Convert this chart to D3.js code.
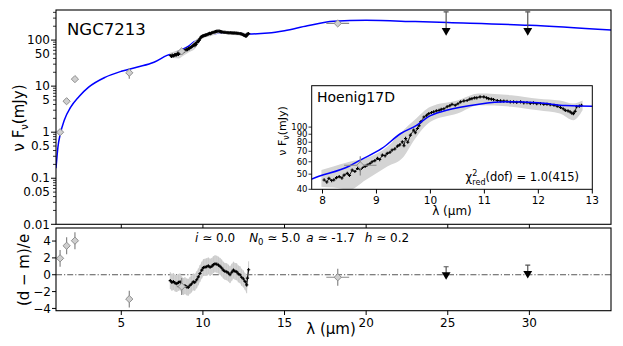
<!DOCTYPE html>
<html><head><meta charset="utf-8">
<script src="https://cdn.jsdelivr.net/npm/d3@7"></script>
<style>
body{margin:0;background:#fff;}
svg text{font-family:"DejaVu Sans",sans-serif;}
</style></head>
<body><svg id="c" width="623" height="346"></svg>
<script>
// ---------------- DATA ----------------
const modelWl   = [1.0,1.12,1.27,1.5,1.9,2.4,3.0,4.0,5.0,6.0,7.0,7.8,8.5,8.7,9.1,9.45,9.75,9.95,10.3,10.9,11.4,12.0,12.5,13.0,14.0,15.0,16.4,18.0,20.0,23.0,25.0,30.0,35.0];
const modelFlux = [0.165,0.48,0.94,1.8,3.5,5.9,9.5,15.5,21,26,33,46.5,56.4,61.5,73,91,103,116,128,140,145,143,137.5,136,142,160,204,255,268,252,240,210,165];

const specWl   = [8.03,8.08,8.12,8.17,8.21,8.26,8.31,8.36,8.40,8.46,8.50,8.55,8.60,8.65,8.70,8.74,8.79,8.83,8.88,8.92,8.97,9.02,9.06,9.11,9.16,9.20,9.25,9.29,9.34,9.39,9.43,9.48,9.51,9.54,9.58,9.63,9.69,9.72,9.76,9.79,9.82,9.88,9.93,9.97,10.02,10.06,10.11,10.16,10.20,10.25,10.31,10.36,10.40,10.46,10.51,10.56,10.62,10.68,10.73,10.77,10.82,10.86,10.92,10.99,11.04,11.08,11.13,11.17,11.24,11.30,11.36,11.42,11.48,11.54,11.60,11.67,11.73,11.79,11.85,11.91,11.97,12.04,12.10,12.16,12.22,12.29,12.35,12.41,12.46,12.50,12.55,12.59,12.62,12.65,12.68,12.71,12.76,12.80];
const specFlux = [45.9,44.5,47.0,45.5,45.9,47.5,48.2,47.2,49.3,50.6,49.0,53.1,52.0,54.4,53.5,55.2,56.0,57.2,58.5,60.0,61.0,63.1,62.0,66.2,65.5,67.9,69.0,71.3,72.5,75.6,77.0,80.5,76.0,84.6,80.0,88.9,95.6,92.0,98,102,108,116,119,122,124,125,127,128,130,131,135,137,140,138,141,145,147,148,151,152,154,154,156,156,154,152,151,150,148,147,146.5,146,145,145,144,145,143,143.6,142,142.7,141,141.5,140,140,139,138,136,133.5,131,128,127,125,123,122,126,135,136,138];

const bandWl = [7.98,8.2,8.5,8.8,9.2,9.5,9.7,10.0,10.5,10.9,11.5,12.0,12.4,12.65,12.82];
const bandLo = [41.6,41,39.8,45.9,55.9,64.3,82.6,108,122,138,135,128,122,110.6,128];
const bandHi = [53.1,56,60,63.1,74.8,95.6,110.6,135,148,164,160,152,148,141.6,148];

const residWl = [8.00,8.10,8.19,8.30,8.40,8.50,8.60,8.70,8.80,8.90,9.01,9.10,9.21,9.30,9.41,9.50,9.62,9.72,9.82,9.93,10.03,10.13,10.23,10.33,10.44,10.55,10.64,10.74,10.85,10.95,11.05,11.15,11.25,11.35,11.46,11.56,11.66,11.77,11.87,11.97,12.07,12.17,12.27,12.37,12.48,12.58,12.68,12.73,12.80];
const residVal = [-0.7,-0.9,-0.8,-1.0,-1.05,-0.9,-0.85,-1.2,-1.4,-1.3,-1.45,-1.5,-1.25,-1.1,-0.85,-0.9,-0.6,-0.25,0.15,0.55,0.85,0.9,0.95,1.05,0.9,1.0,1.2,1.3,1.25,1.15,1.0,0.8,0.55,0.4,0.35,0.2,0.0,0.3,0.55,0.4,0.35,0.1,0.0,-0.3,-0.5,-0.8,-1.2,-0.4,0.6];

const photWl    = [1.25,1.65,2.16,5.49,8.70,18.26];
const photFlux  = [1.0,4.7,14.2,19.5,57,230];
const photErr   = [0.15,0.6,1.5,5,8,12];
const photXerr  = [0,0,0,0,0.3,0.7];
const photRes   = [1.95,3.44,4.04,-2.89,-1.4,-0.3];

const ulWl     = [24.9,29.9];
const ulFlux   = [160,160];
const ulTop    = [410,410];
const ulRes    = [0.0,0.15];
const ulResTop = [0.95,1.15];

const mainYTicks  = [0.01,0.05,0.1,0.5,1,5,10,50,100];
const residYTicks = [-4,-2,0,2,4];
const xTicks      = [5,10,15,20,25,30];
const insetXTicks = [8,9,10,11,12,13];
const insetYTicks = [40,50,60,70,80,90,100];

// ---------------- SCALES ----------------
const svg = d3.select("#c");
const X0=56, X1=611;
const x = d3.scaleLinear().domain([1,35]).range([X0,X1]);
const y = d3.scaleLog().domain([0.01,450]).range([224.3,10]);
const yr = d3.scaleLinear().domain([-4.27,5.55]).range([310.7,228]);
const xi = d3.scaleLinear().domain([7.8,13]).range([311.7,592.3]);
const yi = d3.scaleLog().domain([40,184]).range([189.3,85.7]);

const defs = svg.append("defs");
function clip(id,x0,y0,x1,y1){defs.append("clipPath").attr("id",id).append("rect").attr("x",x0).attr("y",y0).attr("width",x1-x0).attr("height",y1-y0);}
clip("cm",X0,10,X1,224.3); clip("cr",X0,228,X1,310.7); clip("ci",311.7,85.7,592.3,189.3);

const diamond = d3.symbol(d3.symbolSquare,26)();
const tri = d3.symbol(d3.symbolTriangle,34)();

function drawSpectrum(g,xs,ys,lw){
  const band = d3.area().x((d,i)=>xs(bandWl[i])).y0((d,i)=>ys(bandLo[i])).y1((d,i)=>ys(bandHi[i])).curve(d3.curveMonotoneX);
  g.append("path").datum(bandWl).attr("d",band).attr("fill","#d4d4d4");
  const ln = d3.line().x((d,i)=>xs(specWl[i])).y((d,i)=>ys(specFlux[i]));
  g.append("path").datum(specWl).attr("d",ln).attr("fill","none").attr("stroke","#111").attr("stroke-width",lw);
  g.selectAll(null).data(specWl).enter().append("path")
    .attr("d","M-1.6,0H1.6M0,-1.6V1.6").attr("stroke","#000").attr("stroke-width",1.1)
    .attr("transform",(d,i)=>`translate(${xs(d)},${ys(specFlux[i])})`);
}
function drawModel(g,xs,ys){
  const ln = d3.line().x((d,i)=>xs(modelWl[i])).y((d,i)=>ys(modelFlux[i])).curve(d3.curveMonotoneX);
  g.append("path").datum(modelWl).attr("d",ln).attr("fill","none").attr("stroke","#0000ff").attr("stroke-width",1.5);
}
function drawPhot(g,xs,ys,vals,errs,idx){
  idx.forEach(i=>{
    const px=xs(photWl[i]), py=ys(vals[i]);
    const e = errs(i);
    g.append("line").attr("x1",px).attr("x2",px).attr("y1",e[0]).attr("y2",e[1]).attr("stroke","#888").attr("stroke-width",1.2);
    if(photXerr[i]>0) g.append("line").attr("x1",xs(photWl[i]-photXerr[i])).attr("x2",xs(photWl[i]+photXerr[i])).attr("y1",py).attr("y2",py).attr("stroke","#888").attr("stroke-width",1.2);
    g.append("path").attr("d",diamond).attr("transform",`translate(${px},${py}) rotate(45)`).attr("fill","#cfcfcf").attr("stroke","#8a8a8a").attr("stroke-width",0.9);
  });
}
function drawUL(g,xs,ys,vals,tops){
  ulWl.forEach((w,i)=>{
    const px=xs(w), py=ys(vals[i]), pt=ys(tops[i]);
    g.append("line").attr("x1",px).attr("x2",px).attr("y1",pt).attr("y2",py).attr("stroke","#555").attr("stroke-width",1.2);
    g.append("line").attr("x1",px-2.5).attr("x2",px+2.5).attr("y1",pt).attr("y2",pt).attr("stroke","#555").attr("stroke-width",1.2);
    g.append("path").attr("d",tri).attr("transform",`translate(${px},${py}) rotate(180)`).attr("fill","#000");
  });
}

// ---------------- MAIN PANEL ----------------
const gm = svg.append("g").attr("clip-path","url(#cm)");
drawModel(gm,x,y);
drawSpectrum(gm,x,y,1.0);
drawPhot(gm,x,y,photFlux,i=>[y(photFlux[i]-photErr[i]),y(photFlux[i]+photErr[i])],[0,1,2,3,4,5]);
drawUL(gm,x,y,ulFlux,ulTop);
svg.append("rect").attr("x",X0).attr("y",10).attr("width",X1-X0).attr("height",214.3).attr("fill","none").attr("stroke","#000").attr("stroke-width",1.1);

// main y axis with minor ticks
const minor=[];
for(let e=-2;e<=2;e++) for(let k=1;k<=9;k++){const v=k*Math.pow(10,e); if(v>=0.01&&v<=450) minor.push(v);}
const gyA = svg.append("g");
minor.forEach(v=>{
  const isMaj = Math.abs(Math.log10(v)-Math.round(Math.log10(v)))<1e-9;
  gyA.append("line").attr("x1",X0).attr("x2",X0-(isMaj?5:3)).attr("y1",y(v)).attr("y2",y(v)).attr("stroke","#000").attr("stroke-width",isMaj?1:0.8);
});
mainYTicks.forEach(v=>{
  gyA.append("text").attr("x",X0-6).attr("y",y(v)).attr("dy","0.35em").attr("text-anchor","end").attr("font-size",12).text(String(v));
});
xTicks.forEach(v=>{
  svg.append("line").attr("x1",x(v)).attr("x2",x(v)).attr("y1",224.3).attr("y2",228).attr("stroke","#000");
});

svg.append("text").attr("x",67).attr("y",35).attr("font-size",16.5).text("NGC7213");
const yl = svg.append("text").attr("transform","translate(24,118) rotate(-90)").attr("text-anchor","middle").attr("font-size",15);
yl.append("tspan").text("ν F");
yl.append("tspan").attr("font-size",10).attr("dy",4).text("ν");
yl.append("tspan").attr("dy",-4).text("(mJy)");

// ---------------- INSET ----------------
svg.append("rect").attr("x",311.7).attr("y",85.7).attr("width",280.6).attr("height",103.6).attr("fill","#fff");
const gi = svg.append("g").attr("clip-path","url(#ci)");
drawSpectrum(gi,xi,yi,0.9);
drawModel(gi,xi,yi);
drawPhot(gi,xi,yi,photFlux,i=>[yi(photFlux[i]-photErr[i]),yi(photFlux[i]+photErr[i])],[4]);
svg.append("rect").attr("x",311.7).attr("y",85.7).attr("width",280.6).attr("height",103.6).attr("fill","none").attr("stroke","#000").attr("stroke-width",1);
insetYTicks.forEach(v=>{
  svg.append("line").attr("x1",311.7).attr("x2",308.5).attr("y1",yi(v)).attr("y2",yi(v)).attr("stroke","#000").attr("stroke-width",0.8);
  svg.append("text").attr("x",307.5).attr("y",yi(v)).attr("dy","0.35em").attr("text-anchor","end").attr("font-size",8.5).text(v);
});
insetXTicks.forEach(v=>{
  svg.append("line").attr("x1",xi(v)).attr("x2",xi(v)).attr("y1",189.3).attr("y2",193.5).attr("stroke","#000");
  svg.append("text").attr("x",xi(v)).attr("y",204).attr("text-anchor","middle").attr("font-size",10.5).text(v);
});
svg.append("text").attr("x",xi(10.4)).attr("y",215).attr("text-anchor","middle").attr("font-size",12).text("λ (μm)");
const iyl = svg.append("text").attr("transform","translate(286,131) rotate(-90)").attr("text-anchor","middle").attr("font-size",11);
iyl.append("tspan").text("ν F");
iyl.append("tspan").attr("font-size",8).attr("dy",3).text("ν");
iyl.append("tspan").attr("dy",-3).text("(mJy)");
svg.append("text").attr("x",317).attr("y",101.5).attr("font-size",14).text("Hoenig17D");
const chi = svg.append("text").attr("x",579).attr("y",181).attr("text-anchor","end").attr("font-size",11.5);
chi.append("tspan").text("χ");
chi.append("tspan").attr("font-size",8).attr("dy",-5).text("2");
chi.append("tspan").attr("font-size",8).attr("dx",-5).attr("dy",8.5).text("red");
chi.append("tspan").attr("dy",-3.5).text("(dof) = 1.0(415)");

// ---------------- RESIDUAL PANEL ----------------
const gr = svg.append("g").attr("clip-path","url(#cr)");
gr.append("line").attr("x1",X0).attr("x2",X1).attr("y1",yr(0)).attr("y2",yr(0)).attr("stroke","#444").attr("stroke-width",0.9).attr("stroke-dasharray","6,2,1.2,2");
const rband = d3.area().x((d,i)=>x(residWl[i])).y0((d,i)=>yr(residVal[i]-1)).y1((d,i)=>yr(residVal[i]+1));
gr.append("path").datum(residWl).attr("d",rband).attr("fill","#d9d9d9");
gr.selectAll(null).data(residWl).enter().append("line")
  .attr("x1",d=>x(d)).attr("x2",d=>x(d)).attr("y1",(d,i)=>yr(residVal[i]-1)).attr("y2",(d,i)=>yr(residVal[i]+1)).attr("stroke","#c4c4c4").attr("stroke-width",0.8);
gr.append("path").datum(residWl).attr("d",d3.line().x((d,i)=>x(residWl[i])).y((d,i)=>yr(residVal[i]))).attr("fill","none").attr("stroke","#111").attr("stroke-width",1.1);
gr.selectAll(null).data(residWl).enter().append("path")
  .attr("d","M-1.6,0H1.6M0,-1.6V1.6").attr("stroke","#000").attr("stroke-width",1.1)
  .attr("transform",(d,i)=>`translate(${x(d)},${yr(residVal[i])})`);
drawPhot(gr,x,yr,photRes,i=>[yr(photRes[i]-1),yr(photRes[i]+1)],[0,1,2,3,4,5]);
drawUL(gr,x,yr,ulRes,ulResTop);
svg.append("rect").attr("x",X0).attr("y",228).attr("width",X1-X0).attr("height",82.7).attr("fill","none").attr("stroke","#000").attr("stroke-width",1.1);
residYTicks.forEach(v=>{
  svg.append("line").attr("x1",X0).attr("x2",X0-4).attr("y1",yr(v)).attr("y2",yr(v)).attr("stroke","#000");
  svg.append("text").attr("x",X0-5).attr("y",yr(v)).attr("dy","0.35em").attr("text-anchor","end").attr("font-size",12).text(v<0?"−"+(-v):v);
});
xTicks.forEach(v=>{
  svg.append("line").attr("x1",x(v)).attr("x2",x(v)).attr("y1",310.7).attr("y2",315).attr("stroke","#000");
  svg.append("text").attr("x",x(v)).attr("y",327).attr("text-anchor","middle").attr("font-size",12).text(v);
});
svg.append("text").attr("x",331).attr("y",334).attr("text-anchor","middle").attr("font-size",15).text("λ (μm)");
svg.append("text").attr("transform","translate(29,270) rotate(-90)").attr("text-anchor","middle").attr("font-size",15).text("(d − m)/e");

const ann = svg.append("text").attr("x",195).attr("y",241.5).attr("font-size",12);
ann.append("tspan").attr("font-style","italic").text("i");
ann.append("tspan").text(" ≃ 0.0");
ann.append("tspan").attr("dx",14).attr("font-style","italic").text("N");
ann.append("tspan").attr("font-size",8.5).attr("dy",3).text("0");
ann.append("tspan").attr("dy",-3).text(" ≃ 5.0");
ann.append("tspan").attr("dx",6).attr("font-style","italic").text("a");
ann.append("tspan").text(" ≃ -1.7");
ann.append("tspan").attr("dx",10).attr("font-style","italic").text("h");
ann.append("tspan").text(" ≃ 0.2");
</script></body></html>
